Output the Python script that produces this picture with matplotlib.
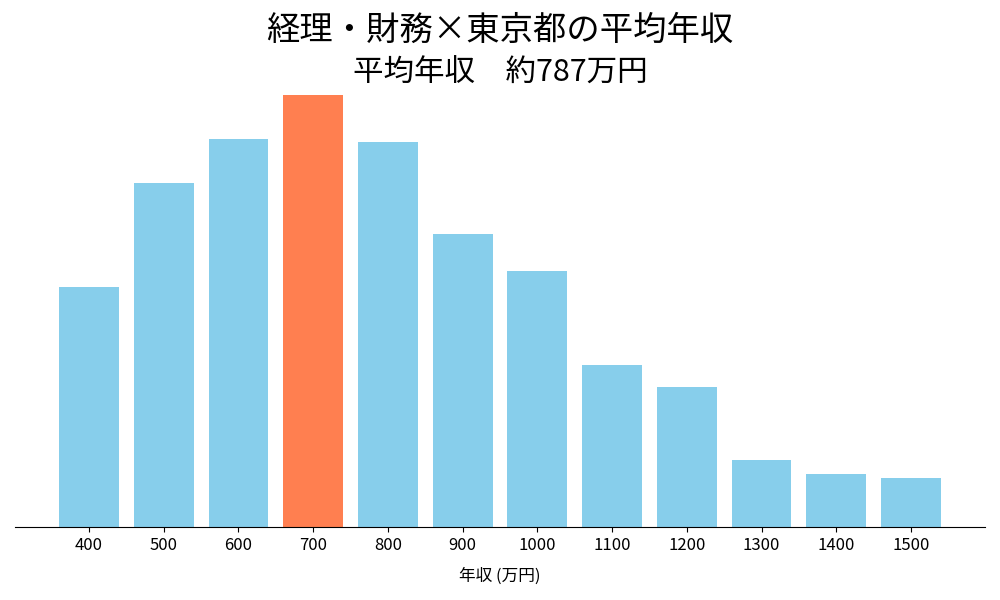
import matplotlib
matplotlib.use('Agg')
import matplotlib.pyplot as plt

plt.rcParams['font.family'] = ['Noto Sans CJK JP', 'DejaVu Sans']

# 年収帯 (万円) と件数
incomes = ['400', '500', '600', '700', '800', '900', '1000',
           '1100', '1200', '1300', '1400', '1500']
counts = [240, 344, 388, 432, 385, 293, 256, 162, 140, 67, 53, 49]
highlight = '700'

colors = ['#FF7F50' if c == highlight else '#87CEEB' for c in incomes]

fig = plt.figure(figsize=(10, 6), dpi=100)
ax = fig.add_axes([0.015, 73 / 600, 0.97, 432 / 600])

ax.bar(incomes, counts, color=colors, width=0.8)
ax.set_ylim(0, max(counts))

ax.spines['top'].set_visible(False)
ax.spines['right'].set_visible(False)
ax.spines['left'].set_visible(False)
ax.set_yticks([])
ax.tick_params(axis='x', labelsize=12)
ax.set_xlabel('年収 (万円)', fontsize=12, labelpad=10)

fig.text(0.5, 1 - 30 / 600, '経理・財務×東京都の平均年収', ha='center', va='center', fontsize=24)
fig.text(0.5, 1 - 73 / 600, '平均年収\u3000約787万円', ha='center', va='center', fontsize=22)

fig.savefig('out.png')
